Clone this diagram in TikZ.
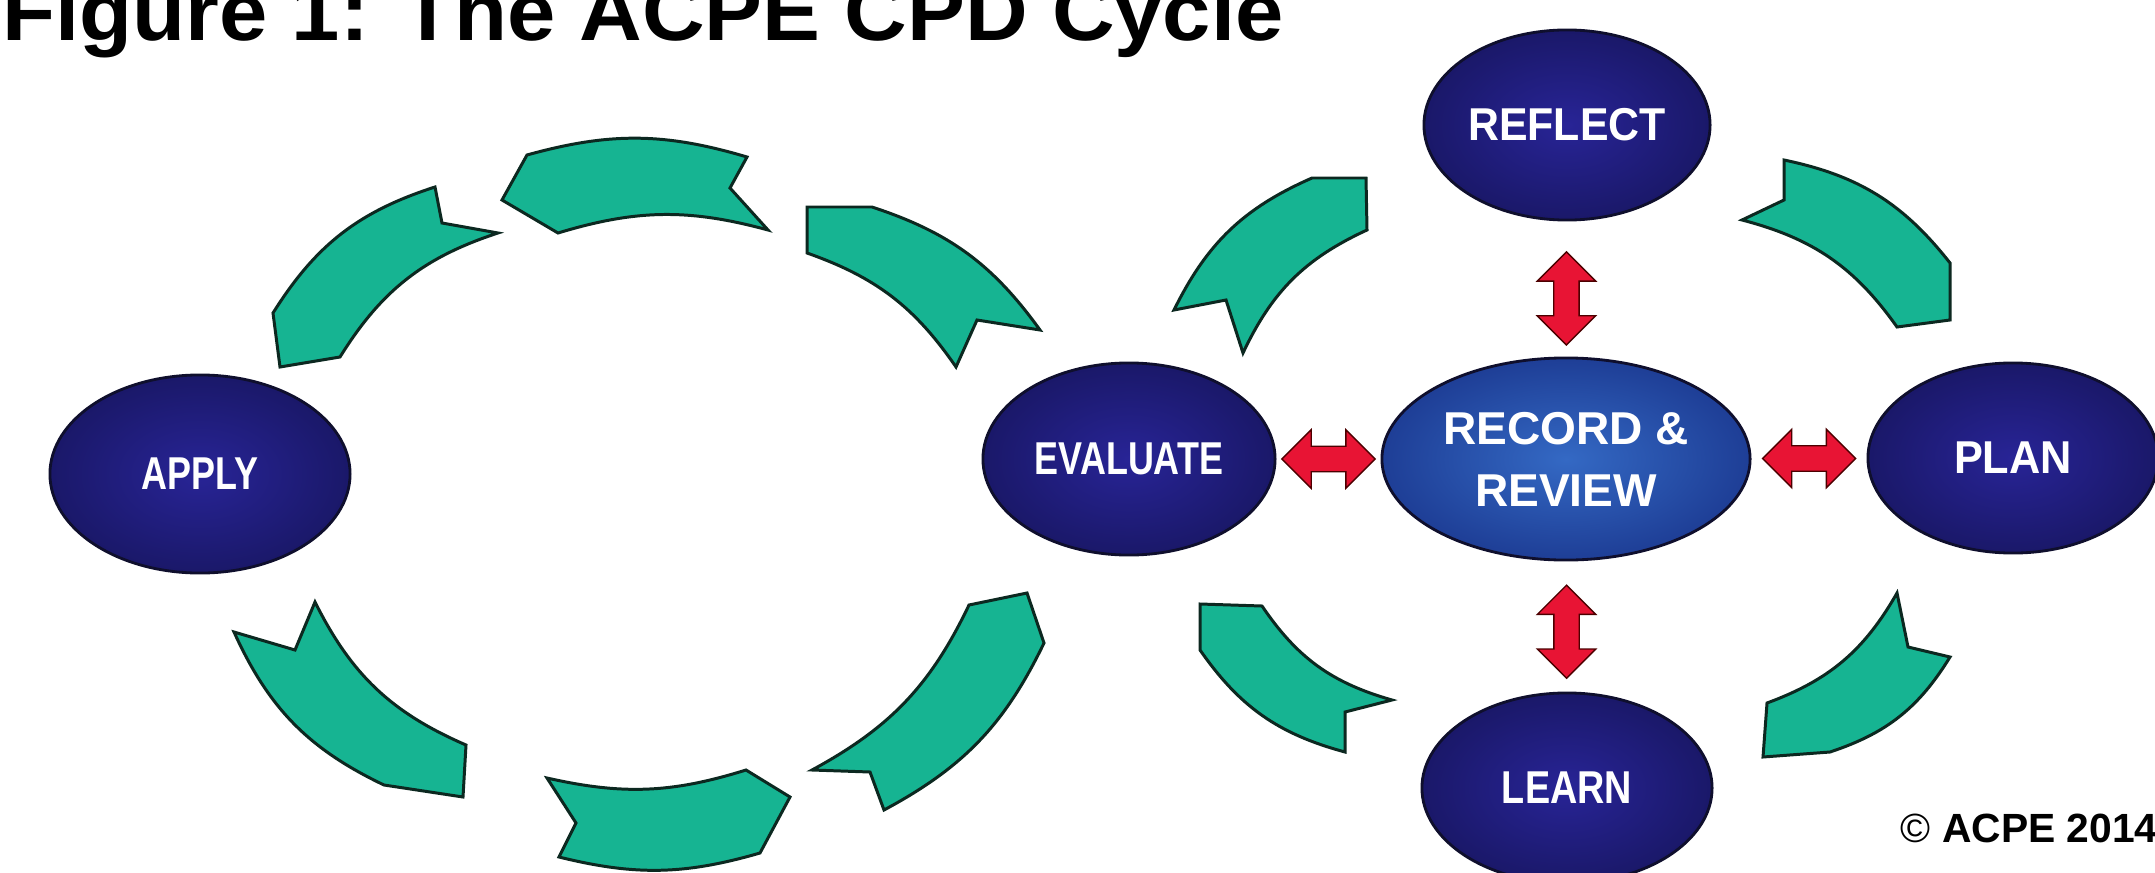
\documentclass[tikz,border=0pt]{standalone}
\usepackage{fontspec}
\setmainfont{Liberation Sans}
\usepackage{graphicx}
\usetikzlibrary{shapes.geometric,shapes.arrows}
\definecolor{tealfill}{RGB}{22,180,146}
\definecolor{chevline}{RGB}{12,40,32}
\definecolor{navyin}{RGB}{40,36,150}
\definecolor{navyout}{RGB}{26,24,105}
\definecolor{bluein}{RGB}{52,105,196}
\definecolor{blueout}{RGB}{30,62,150}
\definecolor{arrred}{RGB}{232,20,52}
\definecolor{ellline}{RGB}{15,15,45}
\newcommand\chevron[8]{\draw[chev] #1 to[#7] #4 -- #5 -- #6 to[#8] #3 -- #2 -- cycle;}
\begin{document}
\begin{tikzpicture}[x=0.01cm,y=-0.01cm,
  stage/.style={ellipse, draw=ellline, line width=0.8pt, inner sep=0pt,
    shading=radial, inner color=navyin, outer color=navyout, text=white,
    font=\bfseries\fontsize{13.1}{15}\selectfont},
  hub/.style={stage, inner color=bluein, outer color=blueout, align=center,
    font=\bfseries\fontsize{13.1}{17.6}\selectfont},
  chev/.style={fill=tealfill, draw=chevline, line width=0.85pt, line join=miter},
  dbl/.style={double arrow, double arrow head extend=0.165cm, double arrow tip angle=90,
    minimum height=0.93cm, inner xsep=0pt, inner ysep=0.12cm,
    fill=arrred, draw=black!70!red, line width=0.4pt}
]
\useasboundingbox (0,0) rectangle (2155,873);
\clip (0,0) rectangle (2155,873);
\fill[white] (0,0) rectangle (2155,873);

% title
\node[anchor=base west, inner sep=0pt, font=\bfseries\fontsize{23.5}{25}\selectfont] (title) at (2,41)
  {\scalebox{1.05}[1]{Figure 1: The ACPE CPD Cycle}};

% chevrons, left loop
\chevron{(1040,330)}{(977,320)}{(956,367)}{(872,207)}{(807,207)}{(807,253)}{bend right=18}{bend left=18}
\chevron{(747,157)}{(730,188)}{(768,230)}{(527,155)}{(502,200)}{(558,233)}{bend right=16}{bend left=16}
\chevron{(435,187)}{(442,223)}{(498,233)}{(273,313)}{(280,367)}{(340,357)}{bend right=20}{bend left=20}
\chevron{(234,632)}{(295,650)}{(315,602)}{(384,785)}{(463,797)}{(466,745)}{bend right=20}{bend left=20}
\chevron{(559,857)}{(576,823)}{(547,778)}{(760,853)}{(790,797)}{(746,770)}{bend right=15}{bend left=15}
\chevron{(884,810)}{(870,772)}{(812,770)}{(1044,643)}{(1027,593)}{(969,605)}{bend right=18}{bend left=18}
% chevrons, right loop
\chevron{(1174,310)}{(1226,300)}{(1243,353)}{(1312,178)}{(1366,178)}{(1367,230)}{bend left=20}{bend right=20}
\chevron{(1784,160)}{(1784,200)}{(1742,220)}{(1950,263)}{(1950,320)}{(1897,327)}{bend left=20}{bend right=20}
\chevron{(1950,657)}{(1908,647)}{(1897,593)}{(1830,752)}{(1763,757)}{(1767,703)}{bend left=20}{bend right=20}
\chevron{(1345,752)}{(1345,712)}{(1392,700)}{(1200,650)}{(1200,604)}{(1262,606)}{bend left=20}{bend right=20}

% stages
\node[stage, minimum width=3.00cm, minimum height=1.98cm] (apply) at (200,474) {\scalebox{0.78}[1]{APPLY}};
\node[stage, minimum width=2.92cm, minimum height=1.92cm] (eval) at (1129,459) {\scalebox{0.78}[1]{EVALUATE}};
\node[hub, minimum width=3.68cm, minimum height=2.02cm] (rec) at (1566,459) {RECORD \&\\REVIEW};
\node[stage, minimum width=2.86cm, minimum height=1.90cm] (refl) at (1567,125) {\scalebox{0.93}[1]{REFLECT}};
\node[stage, minimum width=2.90cm, minimum height=1.90cm] (plan) at (2013,458) {\scalebox{0.94}[1]{PLAN}};
\node[stage, minimum width=2.90cm, minimum height=1.90cm] (learn) at (1567,788) {\scalebox{0.82}[1]{LEARN}};

% red double arrows
\path (eval.east) -- node[dbl] {} (rec.west);
\path (rec.east) -- node[dbl] {} (plan.west);
\path (refl.south) -- node[dbl, rotate=90, pos=0.57] {} (rec.north);
\path (rec.south) -- node[dbl, rotate=90, pos=0.54] {} (learn.north);

% copyright
\node[anchor=base west, inner sep=0pt, font=\bfseries\fontsize{11.6}{13}\selectfont] (copy) at (1900,842)
  {{\mdseries ©} ACPE 2014};
\end{tikzpicture}
\end{document}
